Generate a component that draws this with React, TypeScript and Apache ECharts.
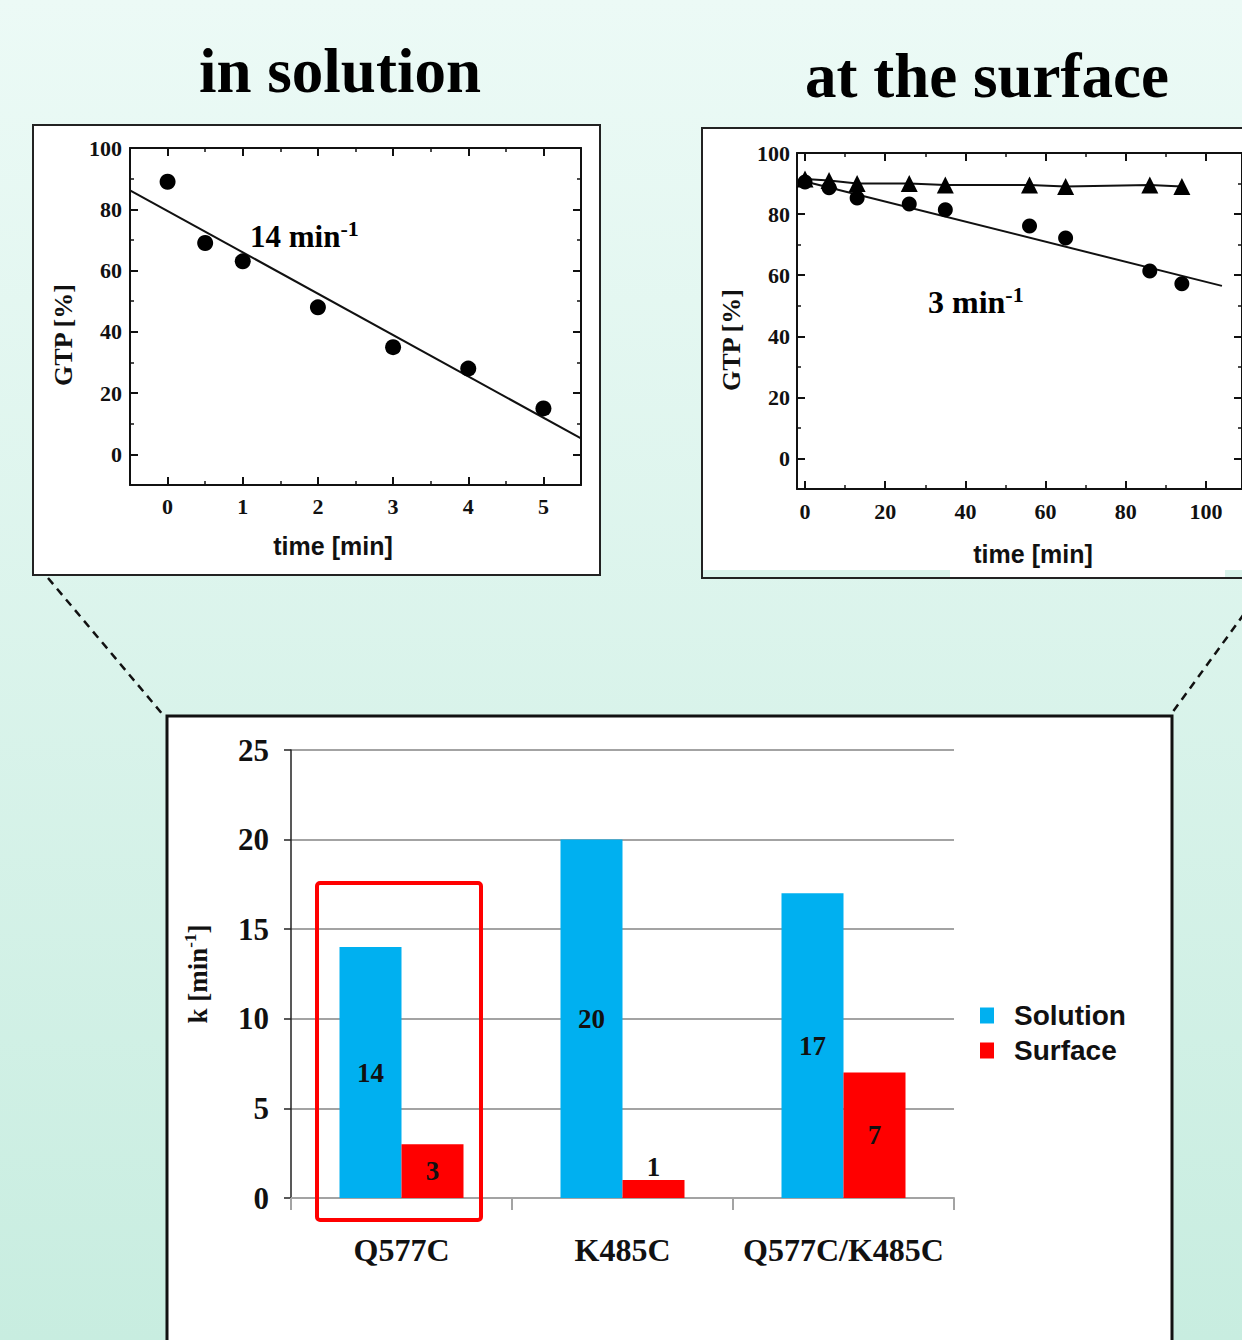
import React, { useEffect, useRef } from "react";
import * as echarts from "echarts";

const SERIF = '"Liberation Serif", "Times New Roman", serif';
const SANS = '"Liberation Sans", Arial, sans-serif';

// ---- "in solution" panel ----
const solTime = [0, 0.5, 1, 2, 3, 4, 5];
const solGtp = [89, 69, 63, 48, 35, 28, 15];
const solFitTime = [-0.5, 5.5];
const solFitGtp = [86.2, 5.2];
const solXTicks = [0, 1, 2, 3, 4, 5];
const solXMinor = [0.5, 1.5, 2.5, 3.5, 4.5];

// ---- shared GTP ticks ----
const gtpTicks = [0, 20, 40, 60, 80, 100];
const gtpMinor = [10, 30, 50, 70, 90];

// ---- "at the surface" panel ----
const surfTime = [0, 6, 13, 26, 35, 56, 65, 86, 94];
const surfGtpCircle = [90.5, 88.6, 85.3, 83.3, 81.4, 76.1, 72.2, 61.4, 57.2];
const surfGtpTriangle = [91.5, 91, 90, 90, 89.5, 89.5, 89, 89.5, 89];
const surfFitTime = [-1, 104];
const surfFitGtp = [91, 56.5];
const surfXTicks = [0, 20, 40, 60, 80, 100];
const surfXMinor = [10, 30, 50, 70, 90];

// ---- bar chart ----
const mutants = ["Q577C", "K485C", "Q577C/K485C"];
const solutionK = [14, 20, 17];
const surfaceK = [3, 1, 7];

const INK = "#111";

function tickAxis(
  gridIndex: number,
  position: string,
  min: number,
  max: number,
  values: number[],
  len: number,
  showLine: boolean,
  labelMargin: number | null
) {
  return {
    type: "value",
    gridIndex,
    position,
    min,
    max,
    axisLine: { show: showLine, onZero: false, lineStyle: { color: INK, width: 2 } },
    axisTick: {
      show: true,
      inside: true,
      length: len,
      customValues: values,
      lineStyle: { color: INK, width: len > 5 ? 2 : 1.5 },
    },
    axisLabel:
      labelMargin === null
        ? { show: false }
        : {
            show: true,
            customValues: values,
            margin: labelMargin,
            fontFamily: SERIF,
            fontWeight: "bold",
            fontSize: 22,
            color: INK,
          },
    splitLine: { show: false },
  };
}

function frameAxes(
  kind: "x" | "y",
  gridIndex: number,
  min: number,
  max: number,
  major: number[],
  minor: number[],
  labelMargin: number
) {
  const [p1, p2] = kind === "x" ? ["bottom", "top"] : ["left", "right"];
  return [
    tickAxis(gridIndex, p1, min, max, major, 8, true, labelMargin),
    tickAxis(gridIndex, p2, min, max, major, 8, true, null),
    tickAxis(gridIndex, p1, min, max, minor, 4, false, null),
    tickAxis(gridIndex, p2, min, max, minor, 4, false, null),
  ];
}

const supRich = (size: number, supSize: number, raise: number, family: string) => ({
  a: { fontFamily: family, fontWeight: "bold", fontSize: size, color: INK },
  s: { fontFamily: family, fontWeight: "bold", fontSize: supSize, color: INK, padding: [0, 0, raise, 0] },
});

export default function App() {
  const ref = useRef<HTMLDivElement>(null);

  useEffect(() => {
    if (!ref.current) return;
    const chart = echarts.init(ref.current, undefined, { renderer: "svg" });

    const xAxes = [
      ...frameAxes("x", 0, -0.5, 5.5, solXTicks, solXMinor, 10),
      ...frameAxes("x", 1, -2, 109, surfXTicks, surfXMinor, 11),
      {
        type: "category",
        gridIndex: 2,
        position: "bottom",
        data: mutants,
        axisLine: { show: true, onZero: false, lineStyle: { color: "#a3a3a3", width: 2 } },
        axisTick: { show: true, length: 12, lineStyle: { color: "#a3a3a3", width: 2 } },
        axisLabel: {
          interval: 0,
          hideOverlap: false,
          margin: 36,
          fontFamily: SERIF,
          fontWeight: "bold",
          fontSize: 32,
          color: INK,
        },
        splitLine: { show: false },
      },
    ];

    const yAxes = [
      ...frameAxes("y", 0, -10, 100, gtpTicks, gtpMinor, 8),
      ...frameAxes("y", 1, -10, 100, gtpTicks, gtpMinor, 7),
      {
        type: "value",
        gridIndex: 2,
        min: 0,
        max: 25,
        interval: 5,
        axisLine: { show: true, onZero: false, lineStyle: { color: "#222", width: 1.5 } },
        axisTick: { show: true, length: 7, lineStyle: { color: "#222", width: 1.5 } },
        axisLabel: { margin: 22, fontFamily: SERIF, fontWeight: "bold", fontSize: 31, color: INK },
        splitLine: { show: true, lineStyle: { color: "#a3a3a3", width: 2 } },
        name: "{a|k [min}{s|-1}{a|]}",
        nameLocation: "middle",
        nameGap: 78,
        nameRotate: 90,
        nameTextStyle: { rich: supRich(27, 17, 14, SERIF) },
      },
    ];

    const dot = { color: "#000", opacity: 1 };

    const option: any = {
      animation: false,
      backgroundColor: {
        type: "linear",
        x: 0,
        y: 0,
        x2: 0,
        y2: 1,
        colorStops: [
          { offset: 0, color: "#ecfaf6" },
          { offset: 1, color: "#c8ede0" },
        ],
      },
      grid: [
        { left: 130, top: 148, width: 451, height: 337 },
        { left: 797, top: 153, width: 449, height: 336 },
        { left: 291, top: 750, width: 663, height: 448 },
      ],
      xAxis: xAxes,
      yAxis: yAxes,
      legend: {
        data: ["Solution", "Surface"],
        orient: "vertical",
        left: 975,
        top: 996,
        icon: "rect",
        itemWidth: 14,
        itemHeight: 16,
        itemGap: 6,
        textStyle: {
          fontFamily: SANS,
          fontWeight: "bold",
          fontSize: 28,
          lineHeight: 29,
          color: INK,
          padding: [0, 0, 0, 15],
        },
      },
      series: [
        {
          type: "line",
          xAxisIndex: 0,
          yAxisIndex: 0,
          data: solFitTime.map((t, i) => [t, solFitGtp[i]]),
          symbol: "none",
          lineStyle: { color: INK, width: 2 },
          z: 3,
        },
        {
          type: "scatter",
          xAxisIndex: 0,
          yAxisIndex: 0,
          data: solTime.map((t, i) => [t, solGtp[i]]),
          symbol: "circle",
          symbolSize: 16,
          itemStyle: dot,
          z: 4,
        },
        {
          type: "line",
          xAxisIndex: 4,
          yAxisIndex: 4,
          data: surfFitTime.map((t, i) => [t, surfFitGtp[i]]),
          symbol: "none",
          lineStyle: { color: INK, width: 2 },
          z: 3,
        },
        {
          type: "line",
          xAxisIndex: 4,
          yAxisIndex: 4,
          data: surfTime.map((t, i) => [t, surfGtpTriangle[i]]),
          symbol: "triangle",
          symbolSize: 17,
          showSymbol: true,
          itemStyle: dot,
          lineStyle: { color: INK, width: 2 },
          z: 4,
        },
        {
          type: "scatter",
          xAxisIndex: 4,
          yAxisIndex: 4,
          data: surfTime.map((t, i) => [t, surfGtpCircle[i]]),
          symbol: "circle",
          symbolSize: 15,
          itemStyle: dot,
          z: 5,
        },
        {
          name: "Solution",
          type: "bar",
          xAxisIndex: 8,
          yAxisIndex: 8,
          data: solutionK,
          barWidth: 62,
          barGap: "0%",
          itemStyle: { color: "#00b0f0" },
          label: {
            show: true,
            position: "inside",
            fontFamily: SERIF,
            fontWeight: "bold",
            fontSize: 27,
            color: INK,
          },
        },
        {
          name: "Surface",
          type: "bar",
          xAxisIndex: 8,
          yAxisIndex: 8,
          data: surfaceK.map((v) => ({
            value: v,
            label: { position: v < 2 ? "top" : "inside", distance: 0 },
          })),
          barWidth: 62,
          barGap: "0%",
          itemStyle: { color: "#ff0000" },
          label: {
            show: true,
            position: "inside",
            fontFamily: SERIF,
            fontWeight: "bold",
            fontSize: 27,
            color: INK,
          },
        },
      ],
      graphic: {
        elements: [
          {
            type: "rect",
            z: -10,
            shape: { x: 33, y: 125, width: 567, height: 450 },
            style: { fill: "#ffffff", stroke: "#222", lineWidth: 2 },
          },
          {
            type: "rect",
            z: -10,
            shape: { x: 702, y: 128, width: 560, height: 450 },
            style: { fill: "#ffffff", stroke: "#222", lineWidth: 2 },
          },
          {
            type: "rect",
            z: -9,
            shape: { x: 703, y: 570, width: 247, height: 7 },
            style: { fill: "#daf3eb" },
          },
          {
            type: "rect",
            z: -9,
            shape: { x: 1225, y: 570, width: 20, height: 7 },
            style: { fill: "#daf3eb" },
          },
          {
            type: "rect",
            z: -10,
            shape: { x: 167, y: 716, width: 1005, height: 640 },
            style: { fill: "#ffffff", stroke: "#111", lineWidth: 3 },
          },
          {
            type: "line",
            shape: { x1: 48, y1: 578, x2: 164, y2: 716 },
            style: { stroke: "#111", lineWidth: 2.5, lineDash: [8, 6] },
          },
          {
            type: "line",
            shape: { x1: 1244, y1: 614, x2: 1172, y2: 713 },
            style: { stroke: "#111", lineWidth: 2.5, lineDash: [8, 6] },
          },
          {
            type: "rect",
            z: 100,
            shape: { x: 317, y: 883, width: 164, height: 337, r: 3 },
            style: { fill: "transparent", stroke: "#ff0000", lineWidth: 4 },
          },
          {
            type: "text",
            x: 340,
            y: 71,
            style: {
              text: "in solution",
              align: "center",
              verticalAlign: "middle",
              fontFamily: SERIF,
              fontWeight: "bold",
              fontSize: 63,
              fill: "#000",
            },
          },
          {
            type: "text",
            x: 987,
            y: 76,
            style: {
              text: "at the surface",
              align: "center",
              verticalAlign: "middle",
              fontFamily: SERIF,
              fontWeight: "bold",
              fontSize: 63,
              fill: "#000",
            },
          },
          {
            type: "text",
            x: 250,
            y: 236,
            z: 50,
            style: {
              text: "{a|14 min}{s|-1}",
              align: "left",
              verticalAlign: "middle",
              rich: supRich(31, 22, 16, SERIF),
            },
          },
          {
            type: "text",
            x: 928,
            y: 302,
            z: 50,
            style: {
              text: "{a|3 min}{s|-1}",
              align: "left",
              verticalAlign: "middle",
              rich: supRich(32, 22, 16, SERIF),
            },
          },
          {
            type: "text",
            x: 63,
            y: 335,
            rotation: Math.PI / 2,
            style: {
              text: "GTP [%]",
              align: "center",
              verticalAlign: "middle",
              fontFamily: SERIF,
              fontWeight: "bold",
              fontSize: 26,
              fill: INK,
            },
          },
          {
            type: "text",
            x: 333,
            y: 546,
            style: {
              text: "time [min]",
              align: "center",
              verticalAlign: "middle",
              fontFamily: SANS,
              fontWeight: "bold",
              fontSize: 25,
              fill: INK,
            },
          },
          {
            type: "text",
            x: 731,
            y: 340,
            rotation: Math.PI / 2,
            style: {
              text: "GTP [%]",
              align: "center",
              verticalAlign: "middle",
              fontFamily: SERIF,
              fontWeight: "bold",
              fontSize: 26,
              fill: INK,
            },
          },
          {
            type: "text",
            x: 1033,
            y: 554,
            style: {
              text: "time [min]",
              align: "center",
              verticalAlign: "middle",
              fontFamily: SANS,
              fontWeight: "bold",
              fontSize: 25,
              fill: INK,
            },
          },
        ],
      },
    };

    chart.setOption(option);
    return () => chart.dispose();
  }, []);

  return (
    <div
      ref={ref}
      style={{ position: "absolute", left: 0, top: 0, width: 1242, height: 1340 }}
    />
  );
}
